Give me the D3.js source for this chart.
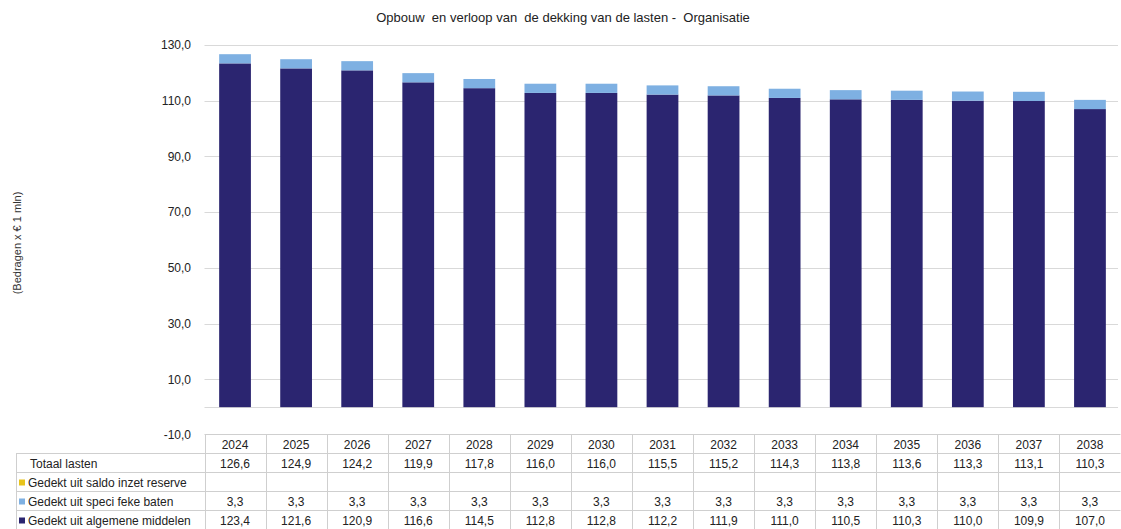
<!DOCTYPE html>
<html><head><meta charset="utf-8">
<script src="https://cdn.jsdelivr.net/npm/d3@7/dist/d3.min.js"></script>
<style>body{margin:0;background:#fff}svg{display:block;font-family:"Liberation Sans",Arial,sans-serif}</style>
</head><body><svg id="c" width="1121" height="529"></svg>
<script>
const years = ["2024","2025","2026","2027","2028","2029","2030","2031","2032","2033","2034","2035","2036","2037","2038"];
const totaal = [126.6,124.9,124.2,119.9,117.8,116.0,116.0,115.5,115.2,114.3,113.8,113.6,113.3,113.1,110.3];
const reserve = [null,null,null,null,null,null,null,null,null,null,null,null,null,null,null];
const specifiek = [3.3,3.3,3.3,3.3,3.3,3.3,3.3,3.3,3.3,3.3,3.3,3.3,3.3,3.3,3.3];
const algemeen = [123.4,121.6,120.9,116.6,114.5,112.8,112.8,112.2,111.9,111.0,110.5,110.3,110.0,109.9,107.0];
const yTicks = [-10,10,30,50,70,90,110,130];
const rowLabels = ["Totaal lasten","Gedekt uit saldo inzet reserve","Gedekt uit speci feke baten","Gedekt uit algemene middelen"];
const colors = {reserve:"#E8C41C", specifiek:"#7EB0E2", algemeen:"#2B2570"};

const svg = d3.select("#c");
const L = 204.5, R = 1120.5, T = 45, B = 435;
const x = d3.scaleBand().domain(years).range([L, R]).paddingInner(0.48).paddingOuter(0.24);
const xc = d3.scaleBand().domain(years).range([L, R]);
const y = d3.scaleLinear().domain([-10, 130]).range([B, T]);
const fmt = v => v == null ? "" : d3.format(".1f")(v).replace(".", ",").replace("\u2212", "-");

// title
svg.append("text").attr("x", 563).attr("y", 22).attr("text-anchor","middle")
  .attr("font-size", 13).attr("fill","#222").attr("xml:space","preserve")
  .text("Opbouw  en verloop van  de dekking van de lasten -  Organisatie");

// y label
svg.append("text").attr("transform","translate(21,243) rotate(-90)").attr("text-anchor","middle")
  .attr("font-size", 11).attr("fill","#333").text("(Bedragen x € 1 mln)");

// gridlines
const gridVals = [0,10,30,50,70,90,110,130];
svg.append("g").selectAll("line").data(gridVals).join("line")
  .attr("x1", L).attr("x2", 1118).attr("y1", d => Math.round(y(d))+0.5).attr("y2", d => Math.round(y(d))+0.5)
  .attr("stroke","#d9d9d9").attr("stroke-width",1);

// y axis labels
const yAxis = d3.axisLeft(y).tickValues(yTicks).tickFormat(fmt).tickSize(0).tickPadding(0);
const ga = svg.append("g").attr("transform", `translate(191,0)`).call(yAxis);
ga.select(".domain").remove();
ga.selectAll("text").attr("font-size", 12).attr("fill","#222").attr("font-family","Liberation Sans, Arial, sans-serif");

// bars
const gb = svg.append("g");
gb.selectAll(".alg").data(years).join("rect")
  .attr("x", d => x(d)).attr("width", x.bandwidth())
  .attr("y", (d,i) => y(algemeen[i])).attr("height", (d,i) => y(0) - y(algemeen[i]))
  .attr("fill", colors.algemeen);
gb.selectAll(".spec").data(years).join("rect")
  .attr("x", d => x(d)).attr("width", x.bandwidth())
  .attr("y", (d,i) => y(algemeen[i] + specifiek[i])).attr("height", (d,i) => y(algemeen[i]) - y(algemeen[i] + specifiek[i]))
  .attr("fill", colors.specifiek);

// data table
const rowH = 19, tTop = 434.5;
const rows = [
  {label:rowLabels[0], vals: totaal, color:null},
  {label:rowLabels[1], vals: reserve, color:colors.reserve},
  {label:rowLabels[2], vals: specifiek, color:colors.specifiek},
  {label:rowLabels[3], vals: algemeen, color:colors.algemeen}
];
const gt = svg.append("g");
const lineC = "#cfcfcf";
gt.append("line").attr("x1", L).attr("x2", R).attr("y1", tTop).attr("y2", tTop).attr("stroke", lineC);
for (let r = 1; r <= 4; r++) {
  gt.append("line").attr("x1", 16).attr("x2", R).attr("y1", tTop + r*rowH).attr("y2", tTop + r*rowH).attr("stroke", lineC);
}
gt.selectAll(".v").data(years.concat(["end"])).join("line")
  .attr("x1", (d,i) => Math.round(L + i*xc.step())+0.5).attr("x2", (d,i) => Math.round(L + i*xc.step())+0.5)
  .attr("y1", tTop).attr("y2", 529).attr("stroke", lineC);
gt.append("line").attr("x1", 16.5).attr("x2", 16.5).attr("y1", tTop+rowH).attr("y2", 529).attr("stroke", lineC);

gt.selectAll(".yr").data(years).join("text")
  .attr("x", d => xc(d) + xc.bandwidth()/2).attr("y", tTop + 14)
  .attr("text-anchor","middle").attr("font-size", 12).attr("fill","#222").text(d => d);

rows.forEach((row, r) => {
  const ty = tTop + (r+1)*rowH + 14;
  if (row.color) {
    gt.append("rect").attr("x", 19).attr("y", ty - 7).attr("width", 6).attr("height", 6).attr("fill", row.color);
  }
  gt.append("text").attr("x", row.color ? 28 : 30).attr("y", ty).attr("font-size", 12).attr("fill","#222")
    .attr("xml:space","preserve").text(row.label);
  gt.selectAll(".c"+r).data(years).join("text")
    .attr("x", d => xc(d) + xc.bandwidth()/2).attr("y", ty)
    .attr("text-anchor","middle").attr("font-size", 12).attr("fill","#222")
    .text((d,i) => fmt(row.vals[i]));
});
</script></body></html>
